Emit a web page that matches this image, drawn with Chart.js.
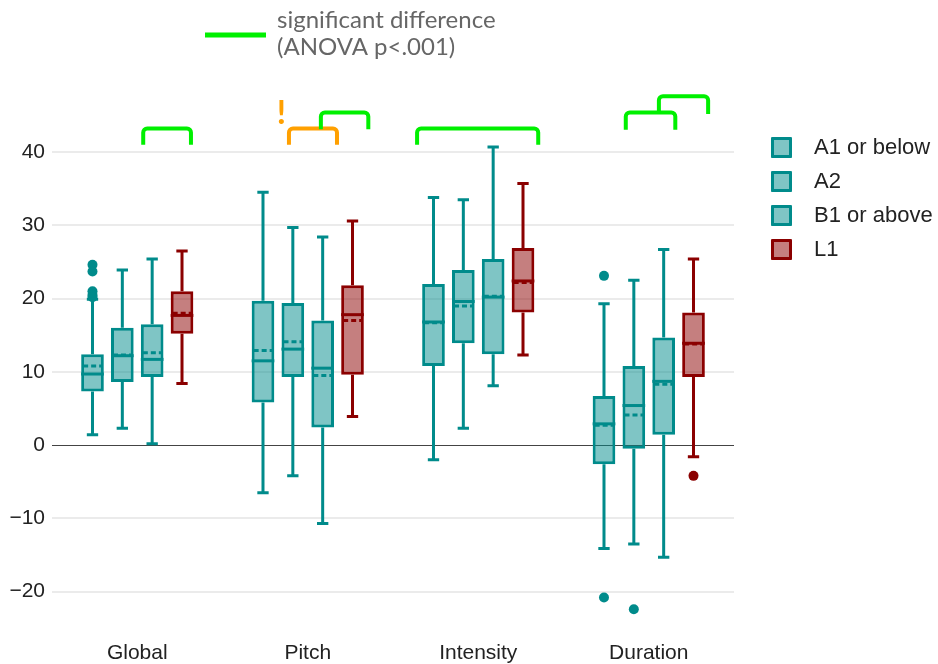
<!DOCTYPE html>
<html>
<head>
<meta charset="utf-8">
<script src="https://cdn.jsdelivr.net/npm/chart.js@4.4.1/dist/chart.umd.min.js"></script>
<style>
    html, body { margin: 0; padding: 0; background: #fff; }
    #wrap { width: 938px; height: 664px; position: relative; }
</style>
</head>
<body>
<div id="wrap"><canvas id="boxChart"></canvas></div>
<script>
// Categories, groups and axis ticks
var categories = ['Global', 'Pitch', 'Intensity', 'Duration'];
var groups = ['A1 or below', 'A2', 'B1 or above', 'L1'];
var yTicks = [-20, -10, 0, 10, 20, 30, 40];

// Box statistics: one row per group, one column per category
var lowerWhisker = [
    [1.4, -6.5, -2.0, -14.1],
    [2.3, -4.2, 2.3, -13.5],
    [0.2, -10.7, 8.1, -15.3],
    [8.4, 3.9, 12.3, -1.6]
];
var q1 = [
    [7.3, 5.8, 10.8, -2.6],
    [8.6, 9.3, 13.9, -0.5],
    [9.3, 2.4, 12.4, 1.4],
    [15.2, 9.6, 18.1, 9.3]
];
var median = [
    [9.7, 11.5, 16.8, 2.9],
    [12.2, 13.1, 19.6, 5.4],
    [11.7, 10.5, 20.2, 8.7],
    [17.7, 17.8, 22.4, 13.9]
];
var q3 = [
    [12.4, 19.7, 22.0, 6.7],
    [16.0, 19.4, 23.9, 10.8],
    [16.5, 17.0, 25.4, 14.7],
    [21.0, 21.8, 26.9, 18.1]
];
var upperWhisker = [
    [19.9, 34.5, 33.8, 19.3],
    [23.9, 29.7, 33.5, 22.5],
    [25.4, 28.4, 40.7, 26.7],
    [26.5, 30.6, 35.7, 25.4]
];
var mean = [
    [10.8, 12.9, 16.7, 2.7],
    [12.3, 14.1, 19.0, 4.1],
    [12.6, 9.5, 20.3, 8.3],
    [18.0, 17.0, 22.2, 13.8]
];
var outliers = [
    [[24.6, 23.7, 21.0, 20.5, 20.2], [], [], [23.1, -20.8]],
    [[], [], [], [-22.4]],
    [[], [], [], []],
    [[], [], [], [-4.2]]
];

// Significance brackets: category, from/to group slot, leg bottom and top (y units)
var brackets = [
    { cat: 0, from: 1.7, to: 3.3, bottom: 41.0, top: 43.2, color: '#00f000' },
    { cat: 1, from: 0.87, to: 2.48, bottom: 41.0, top: 43.2, color: '#ffa000' },
    { cat: 1, from: 1.94, to: 3.53, bottom: 43.1, top: 45.4, color: '#00f000' },
    { cat: 2, from: -0.55, to: 3.51, bottom: 41.0, top: 43.2, color: '#00f000' },
    { cat: 3, from: 0.73, to: 2.39, bottom: 43.05, top: 45.4, color: '#00f000' },
    { cat: 3, from: 1.84, to: 3.49, bottom: 45.2, top: 47.6, color: '#00f000' }
];

var lineColors = ['#008b8b', '#008b8b', '#008b8b', '#8b0000'];
var fillColors = ['rgba(0,139,139,0.5)', 'rgba(0,139,139,0.5)', 'rgba(0,139,139,0.5)', 'rgba(139,0,0,0.5)'];
var axisFont = "'Liberation Sans', Arial, sans-serif";
var textColor = '#222';

// position of a (fractional) group slot inside a category
function slotX(chart, cat, s) {
    var a = chart.getDatasetMeta(0).data[cat].x;
    var b = chart.getDatasetMeta(1).data[cat].x;
    return a + s * (b - a);
}

var boxPlugin = {
    id: 'boxParts',
    afterDatasetsDraw: function (chart) {
        var ctx = chart.ctx;
        var y = chart.scales.y;
        ctx.save();
        for (var i = 0; i < groups.length; i++) {
            var meta = chart.getDatasetMeta(i);
            for (var j = 0; j < categories.length; j++) {
                var bar = meta.data[j];
                var x = bar.x;
                var half = bar.width / 2;
                var cap = bar.width / 4;
                ctx.strokeStyle = lineColors[i];
                ctx.fillStyle = lineColors[i];
                ctx.lineWidth = 3;
                ctx.setLineDash([]);
                // whiskers
                ctx.beginPath();
                ctx.moveTo(x, y.getPixelForValue(q3[i][j]));
                ctx.lineTo(x, y.getPixelForValue(upperWhisker[i][j]));
                ctx.moveTo(x - cap, y.getPixelForValue(upperWhisker[i][j]));
                ctx.lineTo(x + cap, y.getPixelForValue(upperWhisker[i][j]));
                ctx.moveTo(x, y.getPixelForValue(q1[i][j]));
                ctx.lineTo(x, y.getPixelForValue(lowerWhisker[i][j]));
                ctx.moveTo(x - cap, y.getPixelForValue(lowerWhisker[i][j]));
                ctx.lineTo(x + cap, y.getPixelForValue(lowerWhisker[i][j]));
                ctx.stroke();
                // median
                ctx.beginPath();
                ctx.moveTo(x - half, y.getPixelForValue(median[i][j]));
                ctx.lineTo(x + half, y.getPixelForValue(median[i][j]));
                ctx.stroke();
                // mean (dashed)
                ctx.setLineDash([5, 3]);
                ctx.beginPath();
                ctx.moveTo(x - half + 2, y.getPixelForValue(mean[i][j]));
                ctx.lineTo(x + half - 2, y.getPixelForValue(mean[i][j]));
                ctx.stroke();
                ctx.setLineDash([]);
                // outliers
                outliers[i][j].forEach(function (v) {
                    ctx.beginPath();
                    ctx.arc(x, y.getPixelForValue(v), 5, 0, Math.PI * 2);
                    ctx.fill();
                });
            }
        }
        ctx.restore();
    },
    afterDraw: function (chart) {
        var ctx = chart.ctx;
        var y = chart.scales.y;
        var area = chart.chartArea;
        ctx.save();

        // brackets
        ctx.lineWidth = 4;
        ctx.lineJoin = 'round';
        brackets.forEach(function (b) {
            var l = slotX(chart, b.cat, b.from);
            var r = slotX(chart, b.cat, b.to);
            var t = y.getPixelForValue(b.top);
            var bt = y.getPixelForValue(b.bottom);
            var rad = 4;
            ctx.strokeStyle = b.color;
            ctx.beginPath();
            ctx.moveTo(l, bt);
            ctx.lineTo(l, t + rad);
            ctx.arcTo(l, t, l + rad, t, rad);
            ctx.lineTo(r - rad, t);
            ctx.arcTo(r, t, r, t + rad, rad);
            ctx.lineTo(r, bt);
            ctx.stroke();
        });

        // orange exclamation mark
        ctx.fillStyle = '#ffa000';
        ctx.font = "bold 33px Lato, sans-serif";
        ctx.textAlign = 'center';
        ctx.textBaseline = 'alphabetic';
        ctx.fillText('!', slotX(chart, 1, 0.62), 124);

        // annotation at the top
        ctx.strokeStyle = '#00f000';
        ctx.lineWidth = 5;
        ctx.beginPath();
        ctx.moveTo(205, 35);
        ctx.lineTo(266, 35);
        ctx.stroke();
        ctx.fillStyle = '#666';
        ctx.font = "24px Lato, sans-serif";
        ctx.textAlign = 'left';
        ctx.fillText('significant difference', 277, 28);
        ctx.fillText('(ANOVA p<.001)', 277, 55);

        // legend
        ctx.font = "22px " + axisFont;
        ctx.textBaseline = 'middle';
        for (var i = 0; i < groups.length; i++) {
            var lx = area.right + 37;
            var ly = 137 + i * 34;
            ctx.fillStyle = fillColors[i];
            ctx.fillRect(lx, ly, 21, 21);
            ctx.strokeStyle = lineColors[i];
            ctx.lineWidth = 3;
            ctx.strokeRect(lx + 1.5, ly + 1.5, 18, 18);
            ctx.fillStyle = textColor;
            ctx.fillText(groups[i], lx + 43, ly + 11);
        }
        ctx.restore();
    }
};

var ctx = document.getElementById('boxChart').getContext('2d');
var boxChart = new Chart(ctx, {
    type: 'bar',
    data: {
        labels: categories,
        datasets: groups.map(function (name, i) {
            return {
                label: name,
                data: categories.map(function (c, j) { return [q1[i][j], q3[i][j]]; }),
                backgroundColor: fillColors[i],
                borderColor: lineColors[i],
                borderWidth: 3,
                borderSkipped: false,
                categoryPercentage: 0.70,
                barPercentage: 0.76
            };
        })
    },
    options: {
        responsive: true,
        maintainAspectRatio: false,
        animation: false,
        layout: { padding: { top: 89, right: 204, bottom: 0, left: 0 } },
        plugins: {
            legend: { display: false },
            tooltip: { enabled: false }
        },
        scales: {
            x: {
                grid: { display: false, drawTicks: false },
                border: { display: false },
                ticks: { padding: 1, color: textColor, font: { family: axisFont, size: 21 } },
                afterFit: function (s) { s.height = 24; }
            },
            y: {
                min: -26.6,
                max: 48.6,
                afterBuildTicks: function (s) {
                    s.ticks = yTicks.map(function (v) { return { value: v }; });
                },
                grid: {
                    drawTicks: false,
                    color: function (c) { return c.tick && c.tick.value === 0 ? '#444' : '#ebebeb'; },
                    lineWidth: function (c) { return c.tick && c.tick.value === 0 ? 1 : 2; }
                },
                border: { display: false },
                ticks: {
                    padding: 7,
                    color: textColor,
                    font: { family: axisFont, size: 21 },
                    callback: function (v) { return String(v).replace('-', '\u2212'); }
                },
                afterFit: function (s) { s.width = 52; }
            }
        }
    },
    plugins: [boxPlugin]
});
</script>
</body>
</html>
